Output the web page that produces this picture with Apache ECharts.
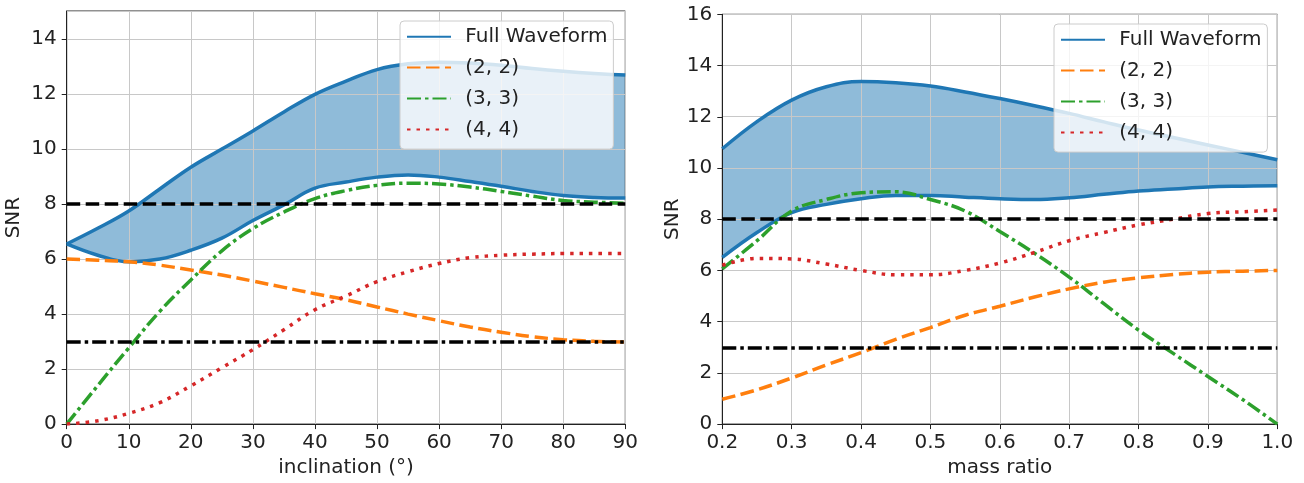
<!DOCTYPE html>
<html>
<head>
<meta charset="utf-8">
<script src="https://cdn.jsdelivr.net/npm/echarts@6/dist/echarts.min.js"></script>
<style>
html,body{margin:0;padding:0;background:#fff;}
#c{width:1304px;height:483px;}
</style>
</head>
<body>
<div id="c"></div>
<script>
// ---- Left panel: SNR vs inclination ----
const inclination = [0,5,10,15,20,25,30,35,40,45,50,55,60,65,70,75,80,85,90];
const incFullUpper = [6.55,7.12,7.75,8.55,9.34,10.0,10.66,11.35,11.99,12.47,12.89,13.1,13.16,13.13,13.05,12.93,12.83,12.75,12.69];
const incFullLower = [6.55,6.14,5.9,6.0,6.32,6.76,7.4,7.97,8.58,8.8,8.98,9.06,8.98,8.82,8.65,8.46,8.31,8.24,8.22];
const inc22 = [6.0,5.96,5.9,5.78,5.6,5.42,5.2,4.97,4.74,4.52,4.26,4.0,3.76,3.53,3.34,3.18,3.07,3.01,2.98];
const inc33 = [0,1.4,2.77,4.1,5.24,6.3,7.11,7.71,8.2,8.49,8.68,8.76,8.73,8.62,8.46,8.29,8.13,8.07,8.03];
const inc44 = [0,0.12,0.39,0.78,1.39,2.05,2.71,3.43,4.16,4.66,5.18,5.54,5.84,6.05,6.14,6.18,6.2,6.2,6.2];
const incXTicks = [0,10,20,30,40,50,60,70,80,90];

// ---- Right panel: SNR vs mass ratio ----
const massRatio = [0.2,0.25,0.3,0.35,0.4,0.45,0.5,0.55,0.6,0.65,0.7,0.75,0.8,0.85,0.9,0.95,1.0];
const mrFullUpper = [10.75,11.81,12.65,13.17,13.38,13.33,13.2,12.97,12.71,12.43,12.13,11.8,11.48,11.19,10.9,10.61,10.32];
const mrFullLower = [6.51,7.48,8.26,8.58,8.8,8.93,8.93,8.86,8.8,8.77,8.84,8.97,9.1,9.18,9.26,9.29,9.31];
const mr22 = [0.97,1.34,1.8,2.31,2.79,3.31,3.77,4.25,4.6,4.96,5.28,5.54,5.71,5.84,5.93,5.97,6.0];
const mr33 = [6.06,7.16,8.32,8.77,9.03,9.07,8.77,8.32,7.52,6.67,5.74,4.7,3.67,2.76,1.86,0.96,0.0];
const mr44 = [6.2,6.47,6.45,6.25,6.0,5.83,5.83,6.0,6.29,6.7,7.16,7.48,7.78,8.0,8.22,8.29,8.36];

// thresholds
const thresholds = [8, 3];
const legendNames = ['Full Waveform', '(2, 2)', '(3, 3)', '(4, 4)'];

const C_BLUE = '#1f77b4', C_ORANGE = '#ff7f0e', C_GREEN = '#2ca02c', C_RED = '#d62728';
const FONT = 'DejaVu Sans';
const FS = 20;
const SMOOTH = 0.4;
const LW = 3.5;
const pairs = (xs, ys) => xs.map((x, i) => [x, ys[i]]);

function panelSeries(k, xs, up, lo, s22, s33, s44) {
  const base = {type: 'line', xAxisIndex: k, yAxisIndex: k, symbol: 'none', smooth: SMOOTH, silent: true};
  return [
    // band: fill under upper curve, then cover below lower curve with white
    Object.assign({}, base, {name: 'band_hi_' + k, data: pairs(xs, up), lineStyle: {opacity: 0},
      areaStyle: {color: 'rgba(31,119,180,0.5)', opacity: 1, origin: 'start'}, z: -2}),
    Object.assign({}, base, {name: 'band_lo_' + k, data: pairs(xs, lo), lineStyle: {opacity: 0},
      areaStyle: {color: '#ffffff', opacity: 1, origin: 'start'}, z: -1}),
    Object.assign({}, base, {name: 'Full Waveform', data: pairs(xs, up), color: C_BLUE, lineStyle: {color: C_BLUE, width: LW}}),
    Object.assign({}, base, {name: 'Full Waveform', data: pairs(xs, lo), color: C_BLUE, lineStyle: {color: C_BLUE, width: LW}}),
    Object.assign({}, base, {name: '(2, 2)', data: pairs(xs, s22), color: C_ORANGE, lineStyle: {color: C_ORANGE, width: LW, type: [13.5, 5.5]}}),
    Object.assign({}, base, {name: '(3, 3)', data: pairs(xs, s33), color: C_GREEN, lineStyle: {color: C_GREEN, width: LW, type: [14, 4, 3.5, 4]}}),
    Object.assign({}, base, {name: '(4, 4)', data: pairs(xs, s44), color: C_RED, lineStyle: {color: C_RED, width: LW, type: [3.5, 6]}}),
    {type: 'line', name: 'thr_' + k, xAxisIndex: k, yAxisIndex: k, data: [], silent: true,
      markLine: {symbol: 'none', silent: true, animation: false, label: {show: false},
        data: [
          {yAxis: thresholds[0], lineStyle: {color: '#000', width: LW, type: [13.5, 5.5]}},
          {yAxis: thresholds[1], lineStyle: {color: '#000', width: LW, type: [14, 4, 3.5, 4]}}
        ]}}
  ];
}

const axisCommon = {
  axisLine: {show: true, onZero: false, lineStyle: {color: '#222', width: 1}},
  axisTick: {show: true, length: 5, lineStyle: {color: '#222', width: 1}},
  splitLine: {show: true, lineStyle: {color: '#c8c8c8', width: 1}},
  axisLabel: {fontFamily: FONT, fontSize: FS, color: '#222'},
  nameTextStyle: {fontFamily: FONT, fontSize: FS, color: '#222'},
  nameLocation: 'middle'
};
function ax(extra) {
  const a = JSON.parse(JSON.stringify(axisCommon));
  for (const k in extra) {
    if (typeof extra[k] === 'object' && !Array.isArray(extra[k]) && a[k]) Object.assign(a[k], extra[k]);
    else a[k] = extra[k];
  }
  return a;
}

function legendAt(left, top) {
  return {
    show: true, orient: 'vertical', left: left, top: top,
    data: legendNames,
    itemWidth: 44, itemHeight: 14, itemGap: 10.9,
    padding: [5.7, 6, 9.7, 6],
    backgroundColor: 'rgba(255,255,255,0.8)',
    borderColor: '#cccccc', borderWidth: 1, borderRadius: 4,
    itemStyle: {opacity: 0},
    textStyle: {fontFamily: FONT, fontSize: FS, color: '#222', padding: [0, 0, 0, 9.3]},
    selectedMode: false
  };
}

const option = {
  backgroundColor: '#fff',
  animation: false,
  grid: [
    {left: 66.7, top: 11, width: 558.6, height: 415.7, show: true, borderColor: '#222', borderWidth: 1, backgroundColor: 'transparent'},
    {left: 722.3, top: 14.3, width: 555, height: 413.7, show: true, borderColor: '#222', borderWidth: 1, backgroundColor: 'transparent'}
  ],
  legend: [legendAt(400, 21), legendAt(1054, 24)],
  xAxis: [
    ax({type: 'value', gridIndex: 0, min: incXTicks[0], max: incXTicks[incXTicks.length - 1], interval: 10,
      name: 'inclination (°)', nameGap: 33.5, axisLabel: {margin: 9}}),
    ax({type: 'value', gridIndex: 1, min: 0.2, max: 1.0, interval: 0.1,
      name: 'mass ratio', nameGap: 33.5, axisLabel: {margin: 9, formatter: v => v.toFixed(1)}})
  ],
  yAxis: [
    ax({type: 'value', gridIndex: 0, min: 0, max: 15.02, interval: 2, name: 'SNR', nameGap: 43,
      axisLabel: {margin: 10, showMaxLabel: false, formatter: v => (Math.abs(v - Math.round(v)) < 1e-6 && Math.round(v) % 2 === 0) ? String(Math.round(v)) : ''}}),
    ax({type: 'value', gridIndex: 1, min: 0, max: 16, interval: 2, name: 'SNR', nameGap: 40,
      axisLabel: {margin: 10}})
  ],
  series: [].concat(
    panelSeries(0, inclination, incFullUpper, incFullLower, inc22, inc33, inc44),
    panelSeries(1, massRatio, mrFullUpper, mrFullLower, mr22, mr33, mr44)
  )
};

const chart = echarts.init(document.getElementById('c'), null, {renderer: 'canvas'});
chart.setOption(option);
</script>
</body>
</html>
